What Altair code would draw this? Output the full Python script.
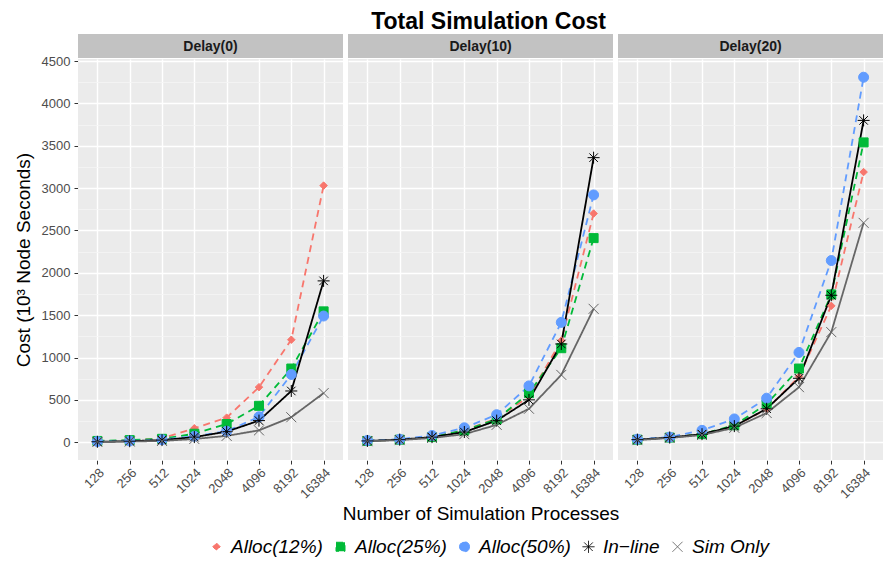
import altair as alt
import pandas as pd

procs = [128, 256, 512, 1024, 2048, 4096, 8192, 16384]
delays = ["Delay(0)", "Delay(10)", "Delay(20)"]
series = ["Alloc(12%)", "Alloc(25%)", "Alloc(50%)", "In\u2212line", "Sim Only"]

# Delay(0)
alloc12_d0 = [10, 20, 45, 165, 290, 650, 1210, 3030]
alloc25_d0 = [15, 25, 40, 100, 215, 430, 870, 1545]
alloc50_d0 = [8, 15, 30, 70, 130, 300, 800, 1490]
inline_d0 = [5, 12, 25, 60, 125, 255, 605, 1905]
simonly_d0 = [3, 8, 15, 38, 75, 140, 295, 580]

# Delay(10)
alloc12_d10 = [15, 30, 60, 140, 280, 540, 1200, 2700]
alloc25_d10 = [15, 30, 60, 140, 270, 580, 1110, 2410]
alloc50_d10 = [20, 35, 80, 170, 325, 665, 1415, 2920]
inline_d10 = [15, 30, 60, 120, 255, 500, 1160, 3360]
simonly_d10 = [12, 25, 50, 95, 205, 395, 795, 1575]

# Delay(20)
alloc12_d20 = [30, 55, 95, 190, 390, 775, 1610, 3190]
alloc25_d20 = [30, 55, 95, 200, 450, 870, 1745, 3540]
alloc50_d20 = [35, 60, 140, 275, 520, 1060, 2145, 4310]
inline_d20 = [30, 55, 95, 190, 395, 755, 1735, 3800]
simonly_d20 = [25, 50, 85, 170, 345, 650, 1300, 2590]

table = {
    "Delay(0)": [alloc12_d0, alloc25_d0, alloc50_d0, inline_d0, simonly_d0],
    "Delay(10)": [alloc12_d10, alloc25_d10, alloc50_d10, inline_d10, simonly_d10],
    "Delay(20)": [alloc12_d20, alloc25_d20, alloc50_d20, inline_d20, simonly_d20],
}

rows = []
for d in delays:
    for s, vals in zip(series, table[d]):
        for p, v in zip(procs, vals):
            rows.append({"delay": d, "series": s, "procs": p, "cost": v})
df = pd.DataFrame(rows)

y_ticks = list(range(0, 4501, 250))

colors = ["#F8766D", "#00BA38", "#619CFF", "#000000", "#666666"]
shapes = [
    "M0,-0.75L0.75,0L0,0.75L-0.75,0Z",
    "M-0.9,-0.9L0.9,-0.9L0.9,0.9L-0.9,0.9Z",
    "circle",
    "M0,-1.2L0,1.2M-1.2,0L1.2,0M-0.85,-0.85L0.85,0.85M-0.85,0.85L0.85,-0.85",
    "M-1,-1L1,1M-1,1L1,-1",
]
dashes = [[7, 5], [7, 5], [7, 5], [1, 0], [1, 0]]

W = 265
H = 401
FONT = "Liberation Sans"
major = "datum.value % 500 === 0"

color_scale = alt.Scale(domain=series, range=colors)

x_enc = alt.X(
    "procs:O",
    scale=alt.Scale(type="point", padding=0.6),
    axis=alt.Axis(
        title=None,
        labelAngle=-45,
        labelFontSize=13,
        labelColor="#4d4d4d",
        labelFont=FONT,
        tickColor="#333333",
        tickSize=4,
        domain=False,
        grid=True,
        gridColor="#ffffff",
        gridWidth=1.4,
        labelPadding=2,
    ),
)
y_enc = alt.Y(
    "cost:Q",
    scale=alt.Scale(domain=[-210, 4525], nice=False, zero=False),
    axis=alt.Axis(
        title="Cost (10\u00b3 Node Seconds)",
        titleFontSize=19,
        titleFontWeight="normal",
        titleColor="#000000",
        titleFont=FONT,
        titlePadding=8,
        values=y_ticks,
        labelExpr=f"{major} ? datum.label : ''",
        format="d",
        labelFontSize=13,
        labelColor="#4d4d4d",
        labelFont=FONT,
        labelPadding=4,
        tickColor="#333333",
        tickSize=4,
        tickOpacity={"condition": {"test": major, "value": 1}, "value": 0},
        domain=False,
        grid=True,
        gridColor={"condition": {"test": major, "value": "#ffffff"}, "value": "#f5f5f5"},
        gridWidth={"condition": {"test": major, "value": 1.4}, "value": 0.8},
    ),
)

base = alt.Chart()

strip = base.transform_aggregate(n="count()", groupby=["delay"]).mark_rect(
    color="#c2c2c2", clip=False
).encode(
    x=alt.value(0), x2=alt.value(W), y=alt.value(-25), y2=alt.value(-1)
)
strip_text = base.transform_aggregate(n="count()", groupby=["delay"]).mark_text(
    font=FONT, fontSize=14, fontWeight="bold", color="#1a1a1a", baseline="middle", align="center"
).encode(
    x=alt.value(W / 2), y=alt.value(-12.5), text="delay:N"
)

legend = alt.Legend(
    orient="none",
    legendX=129,
    legendY=478,
    direction="horizontal",
    title=None,
    labelFontSize=19,
    labelFontStyle="italic",
    labelFont=FONT,
    labelColor="#000000",
    symbolSize=100,
    symbolStrokeWidth=1,
    symbolOpacity=1,
    columnPadding=8,
    labelOffset=5,
)

lines = base.mark_line(strokeWidth=1.8).encode(
    x=x_enc,
    y=y_enc,
    color=alt.Color("series:N", scale=color_scale, title=None, sort=series, legend=legend),
    strokeDash=alt.StrokeDash("series:N", scale=alt.Scale(domain=series, range=dashes), legend=None),
    detail="series:N",
)
points = base.mark_point(filled=True, strokeWidth=1, opacity=1, size=100).encode(
    x=x_enc,
    y=y_enc,
    color=alt.Color("series:N", scale=color_scale, title=None, sort=series, legend=legend),
    stroke=alt.Stroke("series:N", scale=color_scale, title=None, sort=series, legend=legend),
    shape=alt.Shape("series:N", scale=alt.Scale(domain=series, range=shapes), title=None, sort=series, legend=legend),
)

layered = alt.layer(strip, strip_text, lines, points).properties(width=W, height=H)

chart = layered.facet(
    column=alt.Column(
        "delay:N",
        sort=delays,
        header=alt.Header(
            labels=False,
            title="Number of Simulation Processes",
            titleOrient="bottom",
            titleFontSize=19,
            titleFontWeight="normal",
            titleFont=FONT,
            titleColor="#000000",
            titlePadding=-6,
        ),
    ),
    data=df,
    spacing=5,
).properties(
    title=alt.TitleParams(
        "Total Simulation Cost",
        fontSize=23,
        fontWeight="bold",
        font=FONT,
        color="#000000",
        anchor="middle",
        offset=0,
        dx=40,
    ),
    padding={"left": 6, "top": 3, "right": 0, "bottom": 0},
).configure_view(
    fill="#ebebeb", stroke=None
)

chart.save("out.html", embed_options={"renderer": "svg", "actions": False})
